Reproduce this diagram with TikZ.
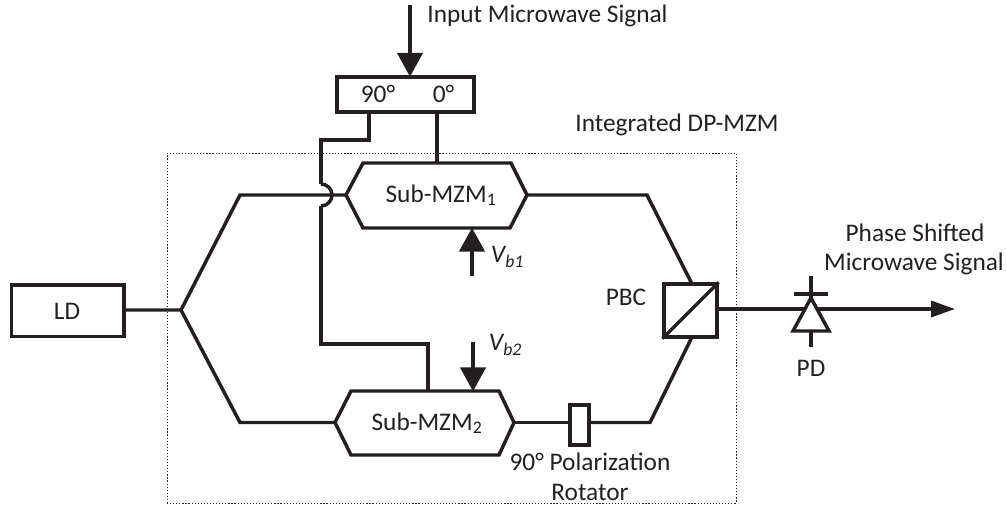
\documentclass[tikz,border=0pt]{standalone}
\usepackage{fontspec}
\setmainfont{Carlito}
\usetikzlibrary{arrows.meta}
\definecolor{ink}{HTML}{231F20}
\tikzset{
  x=0.75pt,y=-0.75pt,
  wg/.style={draw=ink,line width=2.6pt,line join=miter},
  boxed/.style={draw=ink,line width=2.6pt,fill=white,inner sep=0pt,anchor=center},
  lbl/.style={text=ink,font=\fontsize{19pt}{22pt}\selectfont,inner sep=0pt,anchor=center},
  bigarrow/.style={wg,-{Triangle[length=18pt,width=19pt]},shorten >=-1pt},
  outarrow/.style={wg,-{Triangle[length=18pt,width=12pt]}},
  border/.style={draw=ink,line width=0.7pt,dash pattern=on 0.9pt off 1.4pt}
}
\begin{document}
\begin{tikzpicture}
\useasboundingbox (0,0) rectangle (1007,507);
% frame
\node[border,minimum width=426.75pt,minimum height=262.5pt,inner sep=0pt] (frame) at (451.5,328) {};
% free coordinates
\coordinate (inA) at (410,5);
\coordinate (split) at (181,310);
\coordinate (u1) at (240,195);
\coordinate (l1) at (240,422.5);
\coordinate (m1w) at (346,195);
\coordinate (m1e) at (527,195);
\coordinate (m2w) at (335,422.5);
\coordinate (m2e) at (514,422.5);
\coordinate (u2) at (647,195);
\coordinate (l2) at (650,422.5);
\coordinate (pbcT) at (692,284);
\coordinate (pbcB) at (692,337);
\coordinate (m1n) at (437,163);
\coordinate (m2n) at (428,391);
\coordinate (b1s) at (472,276);
\coordinate (b1t) at (472,229);
\coordinate (b2s) at (473,342);
\coordinate (b2t) at (473,390);
\coordinate (hopT) at (321,184);
\coordinate (hopB) at (321,206);
\coordinate (out) at (955,309);
% boxes
\node[boxed,minimum width=84.4pt,minimum height=38.6pt] (ld) at (67.7,310.7) {};
\node[lbl] (ldt) at (67,311) {LD};
\node[boxed,minimum width=103pt,minimum height=26pt] (hyb) at (405.5,94.5) {};
\node[lbl] (h90) at (378,94) {90°};
\node[lbl] (h0) at (443.5,94) {0°};
% microwave feeds
\draw[bigarrow] (inA) -- (hyb.north -| inA);
\coordinate (h90s) at (369,112);
\coordinate (h0s) at (437,112);
\draw[wg] (h0s) -- (m1n);
\draw[wg] (h90s) |- (321,140) -- (hopT);
\draw[wg] (hopB) -- (321,344) -| (m2n);
% waveguides
\draw[wg] (ld.east |- split) -- (split) -- (u1) -- (m1w);
\draw[wg] (split) -- (l1) -- (m2w);
\draw[wg] (hopT) arc[start angle=-90,end angle=90,radius=11];
% modulators
\draw[wg] (m1w) -- (363,163) -- (511,163) -- (m1e) -- (510,228) -- (363,228) -- cycle;
\node[lbl] (m1) at (441,195) {Sub-MZM\textsubscript{1}};
\draw[wg] (m2w) -- (351,391) -- (499,391) -- (m2e) -- (499,455) -- (351,455) -- cycle;
\node[lbl] (m2) at (427,423) {Sub-MZM\textsubscript{2}};
% bias
\draw[bigarrow] (b1s) -- (b1t);
\draw[bigarrow] (b2s) -- (b2t);
\node[lbl] (vb1) at (507.5,257) {\textit{V\textsubscript{b1}}};
\node[lbl] (vb2) at (505.5,345) {\textit{V\textsubscript{b2}}};
% right side
\node[boxed,minimum width=14pt,minimum height=30pt] (rot) at (579.5,425) {};
\draw[wg] (m1e) -- (u2) -- (pbcT);
\draw[wg] (m2e) -- (m2e -| rot.west);
\draw[wg] (l2 -| rot.east) -- (l2) -- (pbcB);
\node[boxed,minimum width=39.5pt,minimum height=39.5pt] (pbc) at (690.5,310.5) {};
\draw[wg] (pbc.south west) -- (pbc.north east);
\node[lbl] (pbcl) at (626,297) {PBC};
% photodiode and output
\draw[outarrow] (pbc.east |- out) -- (out);
\draw[wg,fill=white] (811,298) coordinate (pdT) -- (829,331) -- (793,331) -- cycle;
\draw[wg] (794,294) -- (828,294);
\draw[wg] (811,276) -- (pdT);
\draw[wg] (811,331) -- (811,347);
\node[lbl] (pd) at (811,368) {PD};
% labels
\node[lbl] (t1) at (547.5,16) {Input Microwave Signal};
\node[lbl] (t2) at (677,125) {Integrated DP-MZM};
\node[lbl] (t3) at (915,233) {Phase Shifted};
\node[lbl] (t4) at (914,264) {Microwave Signal};
\node[lbl] (t5) at (590,462) {90° Polarization};
\node[lbl] (t6) at (590,492) {Rotator};
\end{tikzpicture}
\end{document}
